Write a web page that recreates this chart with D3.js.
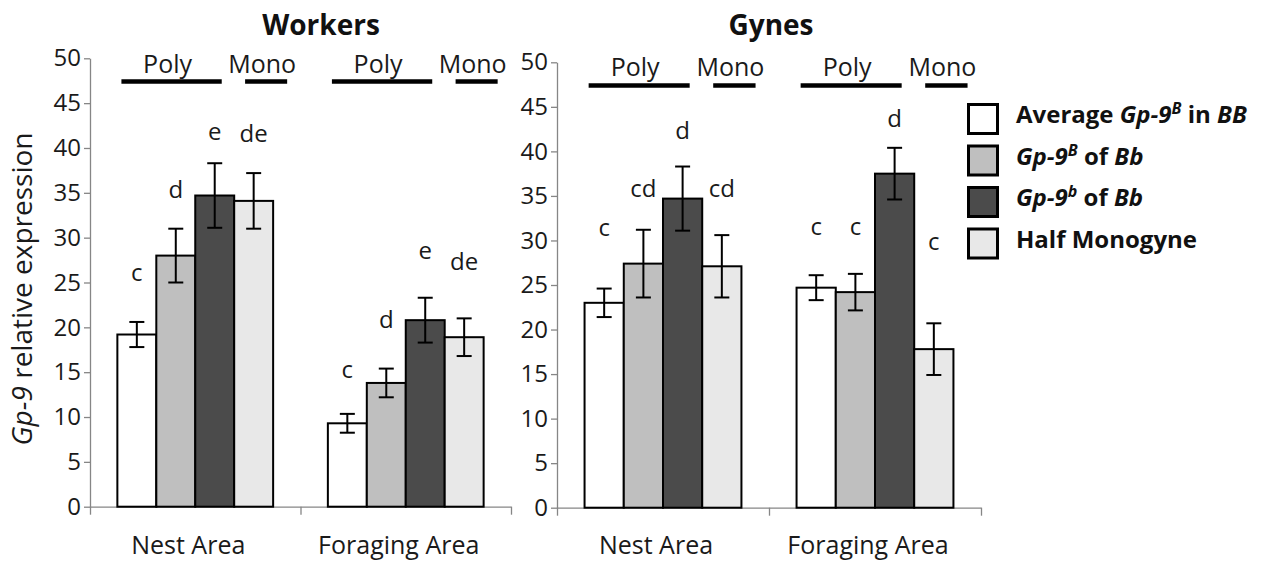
<!DOCTYPE html>
<html>
<head>
<meta charset="utf-8">
<script src="https://cdn.jsdelivr.net/npm/d3@7"></script>
<style>
  body { margin: 0; background: #fff; }
  svg { font-family: "Open Sans", sans-serif; }
</style>
</head>
<body>
<svg id="chart" width="1274" height="562"></svg>
<script>
// data
var categories = ["Nest Area", "Foraging Area"];
var yTicks = [0, 5, 10, 15, 20, 25, 30, 35, 40, 45, 50];
var groupLabels = ["Poly", "Mono"];

var workersMean = [[19.2, 28.0, 34.7, 34.1], [9.3, 13.8, 20.8, 18.9]];
var workersErr = [[1.4, 3.0, 3.6, 3.1], [1.05, 1.6, 2.5, 2.1]];
var workersLetters = [["c", "d", "e", "de"], ["c", "d", "e", "de"]];
var workersLetterAt = [[26.1, 35.4, 41.8, 41.6], [15.3, 20.9, 28.6, 27.3]];

var gynesMean = [[23.0, 27.4, 34.7, 27.1], [24.7, 24.2, 37.5, 17.8]];
var gynesErr = [[1.6, 3.8, 3.6, 3.5], [1.4, 2.05, 2.9, 2.9]];
var gynesLetters = [["c", "cd", "d", "cd"], ["c", "c", "d", "c"]];
var gynesLetterAt = [[31.4, 35.8, 42.3, 35.8], [31.6, 31.6, 43.7, 29.9]];

var seriesColors = ["#ffffff", "#bfbfbf", "#4b4b4b", "#e8e8e8"];

var svg = d3.select("#chart");
var axisColor = "#868686";
var textColor = "#1a1a1a";

var panels = [
  { title: "Workers", titleX: 321, x: [90, 511], y: [506.7, 58.3],
    mean: workersMean, err: workersErr, letters: workersLetters, letterAt: workersLetterAt },
  { title: "Gynes", titleX: 771, x: [557, 981], y: [507.7, 62.3],
    mean: gynesMean, err: gynesErr, letters: gynesLetters, letterAt: gynesLetterAt }
];

panels.forEach(function(p) {
  var g = svg.append("g");
  var y = d3.scaleLinear().domain([0, 50]).range(p.y);
  var x0 = d3.scaleBand().domain(categories).range(p.x)
      .paddingInner(0.26).paddingOuter(0.13);
  var x1 = d3.scaleBand().domain([0, 1, 2, 3]).range([0, x0.bandwidth()]);

  // y axis
  var yAxis = g.append("g")
      .attr("transform", "translate(" + p.x[0] + ",0)")
      .call(d3.axisLeft(y).tickValues(yTicks).tickSize(6).tickSizeOuter(0).tickPadding(3));
  yAxis.selectAll("path, line").attr("stroke", axisColor).attr("stroke-width", 1.3);
  yAxis.selectAll("text").attr("fill", textColor).style("font-size", "24px")
      .style("font-family", "Open Sans");

  // x axis, ticks at category boundaries
  var xb = d3.scaleLinear().domain([0, categories.length]).range(p.x);
  var xAxis = g.append("g")
      .attr("transform", "translate(0," + y(0) + ")")
      .call(d3.axisBottom(xb).tickValues([0, 1, 2]).tickSize(8).tickSizeOuter(0).tickFormat(""));
  xAxis.selectAll("path, line").attr("stroke", axisColor).attr("stroke-width", 1.3);

  g.selectAll(".cat")
    .data(categories)
    .enter().append("text")
      .attr("x", function(d) { return x0(d) + x0.bandwidth() / 2 - 7; })
      .attr("y", 554)
      .attr("text-anchor", "middle")
      .attr("fill", textColor)
      .style("font-size", "25px")
      .text(function(d) { return d; });

  // title
  g.append("text")
    .attr("x", p.titleX)
    .attr("y", 35)
    .attr("text-anchor", "middle")
    .style("font-size", "28px")
    .style("font-weight", "bold")
    .attr("fill", "#111")
    .text(p.title);

  categories.forEach(function(cat, ci) {
    var cg = g.append("g").attr("transform", "translate(" + x0(cat) + ",0)");
    var rows = p.mean[ci].map(function(v, i) {
      return { i: i, v: v, e: p.err[ci][i], l: p.letters[ci][i], la: p.letterAt[ci][i] };
    });

    cg.selectAll("rect")
      .data(rows)
      .enter().append("rect")
        .attr("x", function(d) { return x1(d.i); })
        .attr("y", function(d) { return y(d.v); })
        .attr("width", x1.bandwidth())
        .attr("height", function(d) { return y(0) - y(d.v); })
        .attr("fill", function(d) { return seriesColors[d.i]; })
        .attr("stroke", "#000")
        .attr("stroke-width", 2);

    // error bars
    var eb = cg.selectAll(".err").data(rows).enter().append("g");
    var cx = function(d) { return x1(d.i) + x1.bandwidth() / 2; };
    eb.append("line")
      .attr("x1", cx).attr("x2", cx)
      .attr("y1", function(d) { return y(d.v + d.e); })
      .attr("y2", function(d) { return y(d.v - d.e); })
      .attr("stroke", "#000").attr("stroke-width", 2);
    [1, -1].forEach(function(s) {
      eb.append("line")
        .attr("x1", function(d) { return cx(d) - 7.5; })
        .attr("x2", function(d) { return cx(d) + 7.5; })
        .attr("y1", function(d) { return y(d.v + s * d.e); })
        .attr("y2", function(d) { return y(d.v + s * d.e); })
        .attr("stroke", "#000").attr("stroke-width", 2);
    });

    // significance letters
    cg.selectAll(".letter")
      .data(rows)
      .enter().append("text")
        .attr("x", cx)
        .attr("y", function(d) { return y(d.la); })
        .attr("dy", "0.35em")
        .attr("text-anchor", "middle")
        .attr("fill", textColor)
        .style("font-size", "24px")
        .text(function(d) { return d.l; });

    // Poly / Mono brackets
    var bw = x0.bandwidth();
    var spans = [[0.026, 0.67], [0.82, 1.09]];
    spans.forEach(function(s, si) {
      cg.append("line")
        .attr("x1", s[0] * bw).attr("x2", s[1] * bw)
        .attr("y1", y(47.4)).attr("y2", y(47.4))
        .attr("stroke", "#000").attr("stroke-width", 4.5);
      cg.append("text")
        .attr("x", (s[0] + s[1]) / 2 * bw - 4)
        .attr("y", y(47.4) - 9)
        .attr("text-anchor", "middle")
        .attr("fill", textColor)
        .style("font-size", "25px")
        .text(groupLabels[si]);
    });
  });
});

// y axis title
var yt = svg.append("text")
  .attr("transform", "translate(32,289) rotate(-90)")
  .attr("text-anchor", "middle")
  .attr("fill", textColor)
  .style("font-size", "28px");
yt.append("tspan").style("font-style", "italic").text("Gp-9");
yt.append("tspan").text(" relative expression");

// legend
var legendParts = [
  [["Average ", 0, 0], ["Gp-9", 1, 0], ["B", 1, 1], [" in ", 0, 0], ["BB", 1, 0]],
  [["Gp-9", 1, 0], ["B", 1, 1], [" of ", 0, 0], ["Bb", 1, 0]],
  [["Gp-9", 1, 0], ["b", 1, 1], [" of ", 0, 0], ["Bb", 1, 0]],
  [["Half Monogyne", 0, 0]]
];
var legend = svg.append("g").attr("transform", "translate(967,103)");
legendParts.forEach(function(parts, i) {
  var row = legend.append("g").attr("transform", "translate(0," + i * 41.5 + ")");
  row.append("rect")
    .attr("x", 1.5).attr("y", 1.5)
    .attr("width", 29).attr("height", 29)
    .attr("fill", seriesColors[i])
    .attr("stroke", "#000").attr("stroke-width", 3);
  var t = row.append("text")
    .attr("x", 49).attr("y", 20)
    .attr("fill", "#111")
    .style("font-size", "24px")
    .style("font-weight", "bold");
  var up = false;
  parts.forEach(function(pt) {
    var ts = t.append("tspan").text(pt[0]);
    if (pt[1]) ts.style("font-style", "italic");
    if (pt[2] && !up) { ts.attr("dy", -9).style("font-size", "16px"); up = true; }
    else if (!pt[2] && up) { ts.attr("dy", 9); up = false; }
  });
});
</script>
</body>
</html>
